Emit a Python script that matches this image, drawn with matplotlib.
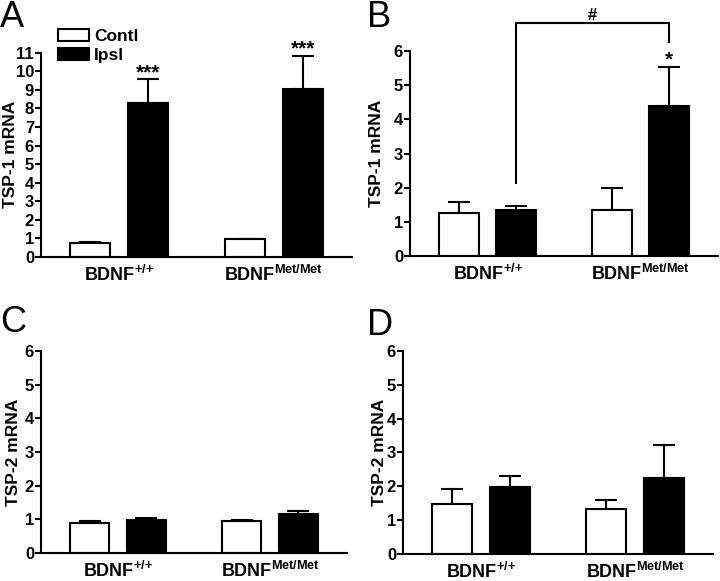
import numpy as np
import matplotlib
matplotlib.use("Agg")
import matplotlib.pyplot as plt
from matplotlib.patches import Patch

plt.rcParams['font.family'] = ['Liberation Sans', 'DejaVu Sans']
plt.rcParams['font.weight'] = 'bold'
plt.rcParams['mathtext.fontset'] = 'custom'
plt.rcParams['mathtext.bf'] = 'Liberation Sans:bold'
plt.rcParams['mathtext.rm'] = 'Liberation Sans:bold'

groups = [r'BDNF$^{\mathbf{{+}/{+}}}$', r'BDNF$^{\mathbf{Met/Met}}$']
series = ['Contl', 'Ipsl']

# panel A: TSP-1 mRNA
a_contl = [0.76, 0.95]
a_contl_err = [0.02, 0.03]
a_ipsl = [8.32, 9.04]
a_ipsl_err = [1.26, 1.81]

# panel B: TSP-1 mRNA
b_contl = [1.25, 1.34]
b_contl_err = [0.34, 0.66]
b_ipsl = [1.34, 4.40]
b_ipsl_err = [0.12, 1.13]

# panel C: TSP-2 mRNA
c_contl = [0.89, 0.96]
c_contl_err = [0.06, 0.03]
c_ipsl = [0.99, 1.17]
c_ipsl_err = [0.04, 0.08]

# panel D: TSP-2 mRNA
d_contl = [1.49, 1.32]
d_contl_err = [0.44, 0.28]
d_ipsl = [1.99, 2.26]
d_ipsl_err = [0.31, 0.96]

fig = plt.figure(figsize=(7.2, 5.81), dpi=100)

centers = np.array([1.95, 5.8])
off = 0.72
width = 1.0
lw = 1.5


def panel(rect, contl, contl_err, ipsl, ipsl_err, ymax, ylabel, label_x):
    ax = fig.add_axes(rect)
    for vals, errs, x, fc in [(contl, contl_err, centers - off, 'white'),
                              (ipsl, ipsl_err, centers + off, 'black')]:
        ax.bar(x, vals, width, color=fc, edgecolor='black', linewidth=lw, zorder=2)
        ax.errorbar(x, vals, yerr=[np.zeros(len(vals)), errs], fmt='none',
                    ecolor='black', elinewidth=lw, capsize=8, capthick=lw, zorder=1)
    ax.set_xlim(0, 7.75)
    ax.set_ylim(0, ymax)
    ax.set_yticks(range(0, ymax + 1))
    ax.set_xticks(centers)
    ax.set_xticklabels(groups, fontsize=13, fontweight='bold')
    ax.tick_params(axis='x', length=0, pad=6)
    ax.tick_params(axis='y', direction='out', length=4, width=lw, labelsize=12, pad=1)
    for t in ax.get_yticklabels():
        t.set_fontweight('bold')
    for s in ['top', 'right']:
        ax.spines[s].set_visible(False)
    for s in ['left', 'bottom']:
        ax.spines[s].set_linewidth(lw)
    ax.set_ylabel(ylabel, fontsize=12.5, fontweight='bold')
    # label_x is the right edge of the rotated label, in pixels
    ax.yaxis.set_label_coords(label_x / 720, rect[1] + rect[3] / 2, transform=fig.transFigure)
    return ax


axA = panel([0.057, 0.558, 0.432, 0.351], a_contl, a_contl_err, a_ipsl, a_ipsl_err, 11, 'TSP-1 mRNA', 18)
axB = panel([0.5694, 0.5594, 0.4278, 0.3528], b_contl, b_contl_err, b_ipsl, b_ipsl_err, 6, 'TSP-1 mRNA', 384)
axC = panel([0.057, 0.0482, 0.425, 0.3477], c_contl, c_contl_err, c_ipsl, c_ipsl_err, 6, 'TSP-2 mRNA', 21)
axD = panel([0.5597, 0.0465, 0.4306, 0.3494], d_contl, d_contl_err, d_ipsl, d_ipsl_err, 6, 'TSP-2 mRNA', 387)

# significance marks
for x, v, e in zip(centers + off, a_ipsl, a_ipsl_err):
    axA.text(x, v + e + 0.05, '***', ha='center', va='baseline', fontsize=15,
             fontweight='bold', clip_on=False)
axB.text(centers[1] + off, b_ipsl[1] + b_ipsl_err[1] + 0.05, '*', ha='center',
         va='baseline', fontsize=15, fontweight='bold', clip_on=False)
xl, xr = centers[0] + off, centers[1] + off
axB.plot([xl, xl, xr, xr], [2.14, 6.82, 6.82, 6.26], color='black', lw=lw, clip_on=False)
axB.text((xl + xr) / 2, 7.05, '#', ha='center', va='center', fontsize=12, fontweight='bold')

# legend
handles = [Patch(facecolor='white', edgecolor='black', linewidth=lw),
           Patch(facecolor='black', edgecolor='black', linewidth=lw)]
axA.legend(handles, series, loc='upper left', bbox_to_anchor=(0.08, 0.95),
           bbox_transform=fig.transFigure, frameon=False, fontsize=12.5,
           handlelength=1.8, handleheight=0.7, handletextpad=0.3,
           labelspacing=0.2, borderpad=0, borderaxespad=0)

# panel letters
for lx, ly, t in [(0.0, 1.0, 'A'), (0.51, 1.0, 'B'), (0.0, 0.475, 'C'), (0.51, 0.47, 'D')]:
    fig.text(lx, ly, t, fontsize=26, fontweight='normal', ha='left', va='top')

fig.savefig('out.png', dpi=100)
